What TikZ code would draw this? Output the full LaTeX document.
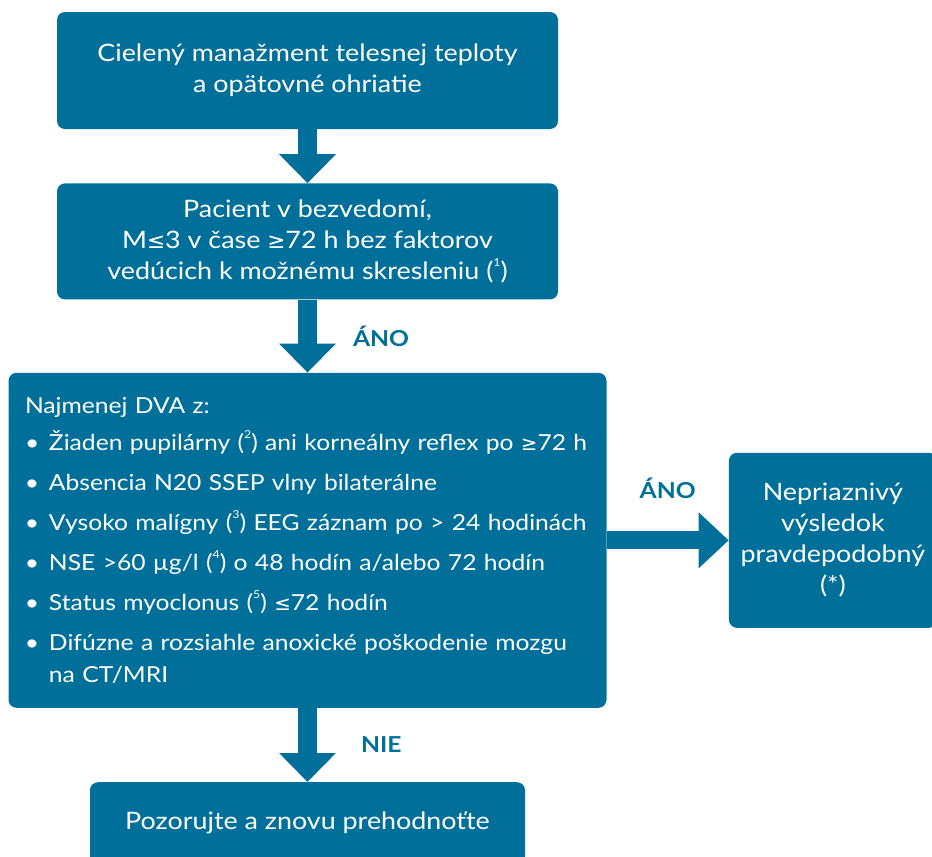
\documentclass[tikz,border=0pt]{standalone}
\usepackage{fontspec}
\setmainfont[FakeStretch=1.12]{Lato}
\newfontfamily\symfont[Scale=0.9]{DejaVu Sans}
\usepackage{tikz}
\usetikzlibrary{arrows.meta,positioning}
\definecolor{flowblue}{HTML}{006F99}
\newcommand{\geqs}{{\symfont ≥}}
\newcommand{\leqs}{{\symfont ≤}}
\newcommand{\bul}{\makebox[24pt][l]{\textbullet}}
\newcommand{\ind}{\hspace*{24pt}}
\newcommand{\refn}[1]{(\raisebox{0.55em}{\fontsize{11}{11}\selectfont #1})}

\begin{document}
\begin{tikzpicture}[x=1pt,y=1pt,node distance=54pt]
    \tikzset{
      box/.style={rounded corners=8pt,fill=flowblue,text=white,align=center,inner sep=0pt,font=\fontsize{24}{31}\selectfont},
      listbox/.style={box,align=left,text width=565pt,minimum width=598pt,minimum height=335pt,font=\fontsize{22}{32}\selectfont},
      fat/.style={-{Triangle[width=55pt,length=29pt]},draw=flowblue,line width=19pt},
      answer/.style={text=flowblue,font=\fontsize{22}{24}\selectfont\bfseries,inner sep=0pt}
    }
    \useasboundingbox (0,0) rectangle (932,-857);
    \node[box,minimum width=501pt,minimum height=117pt] (ttm) at (307.5,-70.5) {Cielený manažment telesnej teploty\\a opätovné ohriatie};
    \node[box,minimum width=501pt,minimum height=116pt,below=54pt of ttm] (koma) {Pacient v bezvedomí,\\M\leqs3 v čase \geqs72 h bez faktorov\\vedúcich k možnému skresleniu \refn{1}};
    \node[listbox,below=73pt of koma] (krit) {Najmenej DVA z:\\[5pt]
      \bul Žiaden pupilárny \refn{2} ani korneálny reflex po \geqs72 h\\[8pt]
      \bul Absencia N20 SSEP vlny bilaterálne\\[8pt]
      \bul Vysoko malígny \refn{3} EEG záznam po > 24 hodinách\\[8pt]
      \bul NSE >60 µg/l \refn{4} o 48 hodín a/alebo 72 hodín\\[8pt]
      \bul Status myoclonus \refn{5} \leqs72 hodín\\[8pt]
      \bul Difúzne a rozsiahle anoxické poškodenie mozgu\\
      \ind na CT/MRI};
    \node[box,minimum width=208pt,minimum height=175pt,right=122pt of krit] (zly) {Nepriaznivý\\výsledok\\pravdepodobný\\(*)};
    \node[box,minimum width=435pt,minimum height=82pt,below=74pt of krit] (pozor) {Pozorujte a znovu prehodnoťte};
    \draw[fat] (ttm) -- (koma);
    \draw[fat] (koma) -- node[answer,right=36pt] {ÁNO} (krit);
    \draw[fat,line width=18pt,-{Triangle[width=54pt,length=30pt]}] (krit) -- node[answer,above=33pt] {ÁNO} (zly);
    \draw[fat] (krit) -- node[answer,right=44pt] {NIE} (pozor);
  \end{tikzpicture}
\end{document}
